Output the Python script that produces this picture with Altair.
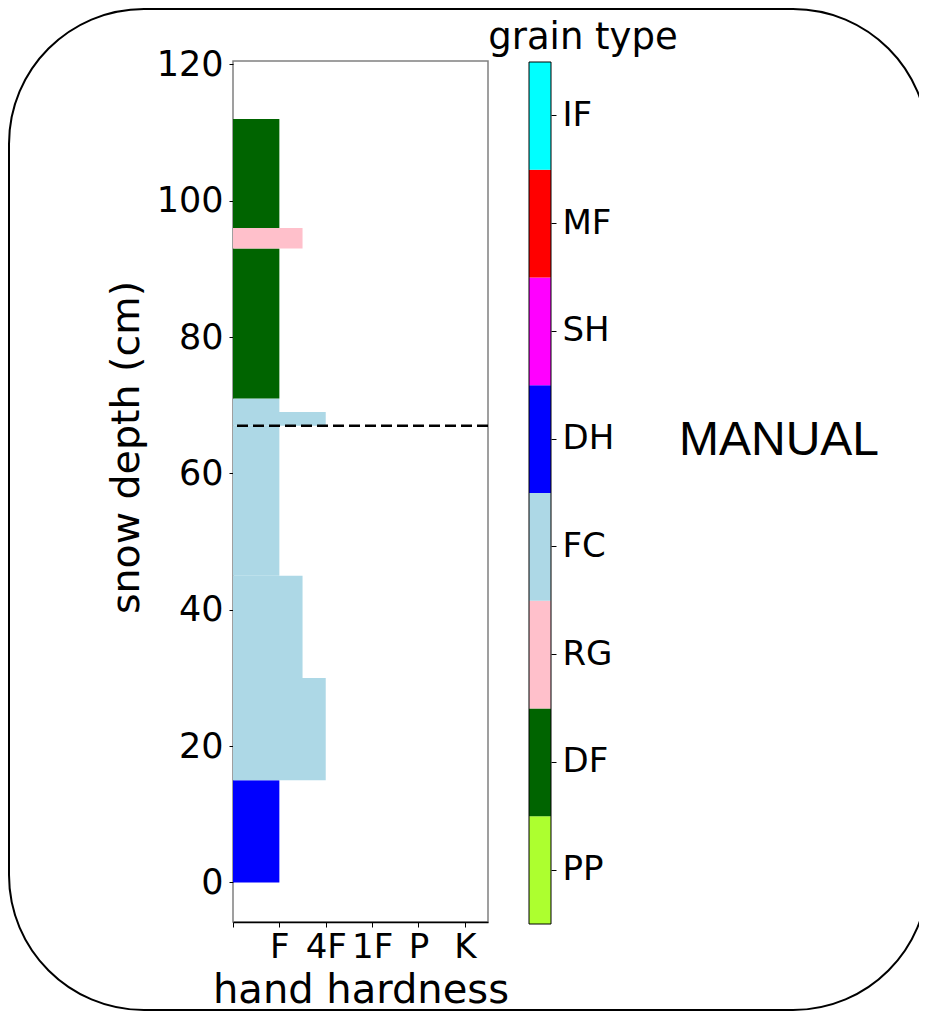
import json
import altair as alt
import pandas as pd

# ---- data ----
layer_bottoms = [0, 15, 30, 45, 67, 69, 71, 93, 96]
layer_tops = [15, 30, 45, 67, 69, 71, 93, 96, 112]
layer_hardness = [1, 2, 1.5, 1, 2, 1, 1, 1.5, 1]
layer_grains = ["DH", "FC", "FC", "FC", "FC", "FC", "DF", "RG", "DF"]

grain_types = ["PP", "DF", "RG", "FC", "DH", "SH", "MF", "IF"]
grain_colors = ["#adff2f", "#006400", "#ffc0cb", "#add8e6",
                "#0000ff", "#ff00ff", "#ff0000", "#00ffff"]

hardness_ticks = [0, 1, 2, 3, 4, 5]
hardness_labels = ["", "F", "4F", "1F", "P", "K"]
depth_ticks = [0, 20, 40, 60, 80, 100, 120]
marker_depth = [67]

colorbar_title = "grain type"
panel_label = "MANUAL"

# ---- tables ----
layers = pd.DataFrame({
    "bottom": layer_bottoms,
    "top": layer_tops,
    "hardness": layer_hardness,
    "zero": [0] * len(layer_bottoms),
    "grain": layer_grains,
})
marker = pd.DataFrame({"depth": marker_depth})
cbar = pd.DataFrame({"grain": grain_types})
one = pd.DataFrame({"a": [0]})

W, H = 255, 861
ydom = [-5.8, 120.5]

color = alt.Color("grain:N", scale=alt.Scale(domain=grain_types, range=grain_colors), legend=None)

label_expr = json.dumps(hardness_labels) + "[round(datum.value)]"

bars = alt.Chart(layers).mark_rect().encode(
    x=alt.X("zero:Q",
            scale=alt.Scale(domain=[0, 5.5], nice=False, zero=False),
            axis=alt.Axis(values=hardness_ticks, labelExpr=label_expr, title="hand hardness",
                          labelFontSize=34, tickSize=5, labelPadding=3, tickColor="black",
                          domainColor="black", domainWidth=1.5, grid=False,
                          titleFontSize=40, titleFontWeight="normal", titleBaseline="alphabetic",
                          titleY=80, labelFlush=False)),
    x2="hardness:Q",
    y=alt.Y("bottom:Q",
            scale=alt.Scale(domain=ydom, nice=False, zero=False),
            axis=alt.Axis(values=depth_ticks, title="snow depth (cm)", labelFontSize=35,
                          tickSize=4, labelPadding=6, tickColor="black", domain=False, grid=False,
                          titleFontSize=39.5, titleFontWeight="normal", titleBaseline="alphabetic",
                          titleX=-95, titleY=386, labelFlush=False)),
    y2="top:Q",
    color=color,
)

rule = alt.Chart(marker).mark_rule(color="black", strokeDash=[11, 5], strokeWidth=2.5).encode(
    y=alt.Y("depth:Q", scale=alt.Scale(domain=ydom, nice=False, zero=False), title="snow depth (cm)"),
)

profile = alt.layer(bars, rule)

colorbar = alt.Chart(cbar).mark_rect().encode(
    x=alt.value(296), x2=alt.value(318),
    y=alt.Y("grain:N", sort=grain_types[::-1],
            scale=alt.Scale(range=[1, 863], paddingInner=0, paddingOuter=0),
            axis=alt.Axis(orient="right", offset=63, title=None, domain=False, labelFontSize=34,
                          tickSize=5, labelPadding=6, tickColor="black", grid=False)),
    color=color,
)

cbar_frame = alt.Chart(one).mark_rect(filled=False, stroke="black", strokeWidth=1).encode(
    x=alt.value(296), x2=alt.value(318), y=alt.value(1), y2=alt.value(863),
)

border = alt.Chart(one).mark_rect(filled=False, stroke="black", strokeWidth=2, cornerRadius=135).encode(
    x=alt.value(-224), x2=alt.value(695), y=alt.value(-52), y2=alt.value(949),
)

cb_title = alt.Chart(one).mark_text(text=colorbar_title, font="DejaVu Sans", fontSize=37,
                                    align="center", baseline="alphabetic", color="black").encode(
    x=alt.value(350), y=alt.value(-12),
)

manual = alt.Chart(one).mark_text(text=panel_label, font="Liberation Sans", fontSize=48,
                                  align="center", baseline="alphabetic", color="black").encode(
    x=alt.value(546), y=alt.value(394),
)

chart = alt.layer(profile, colorbar, cbar_frame, border, cb_title, manual).resolve_scale(
    y="independent"
).properties(
    width=W, height=H,
    autosize=alt.AutoSizeParams(type="none"),
    padding={"left": 225, "top": 53, "right": 431, "bottom": 90},
).configure_view(
    stroke="#808080", strokeWidth=1.5
).configure_axis(
    labelFont="DejaVu Sans", titleFont="DejaVu Sans", labelColor="black", titleColor="black"
)

chart.save("out.html", embed_options={"renderer": "svg", "actions": False})
